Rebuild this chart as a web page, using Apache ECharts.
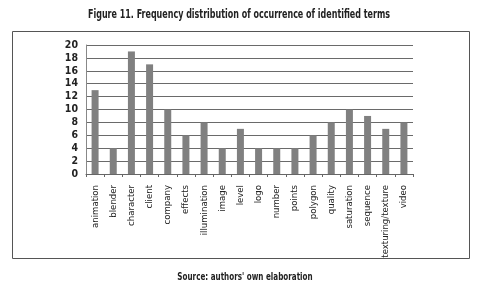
<!DOCTYPE html>
<html>
<head>
<meta charset="utf-8">
<script src="https://cdn.jsdelivr.net/npm/echarts@6/dist/echarts.min.js"></script>
<style>
  html, body { margin: 0; padding: 0; background: #fff; }
  #chart { width: 480px; height: 287px; }
</style>
</head>
<body>
<div id="chart"></div>
<script>
const categories = ['animation', 'blender', 'character', 'client', 'company', 'effects',
  'illumination', 'image', 'level', 'logo', 'number', 'points', 'polygon', 'quality',
  'saturation', 'sequence', 'texturing/texture', 'video']
const counts = [13, 4, 19, 17, 10, 6, 8, 4, 7, 4, 4, 4, 6, 8, 10, 9, 7, 8]
const yTicks = { min: 0, max: 20, interval: 2 }

const font = '"DejaVu Sans Condensed", "Liberation Sans Narrow", sans-serif'
const chart = echarts.init(document.getElementById('chart'))

chart.setOption({
  animation: false,
  textStyle: { fontFamily: font },
  graphic: [{
    type: 'rect',
    shape: { x: 12.5, y: 31.5, width: 457, height: 227 },
    style: { fill: 'none', stroke: '#555', lineWidth: 1 },
    silent: true
  }, {
    // title, squeezed to match the narrow typeface of the original
    type: 'text',
    x: 239, y: 15, scaleX: 0.74,
    style: {
      text: 'Figure 11. Frequency distribution of occurrence of identified terms',
      font: 'bold 12px ' + font, fill: '#222',
      textAlign: 'center', textVerticalAlign: 'middle'
    }
  }, {
    type: 'text',
    x: 245, y: 277, scaleX: 0.8,
    style: {
      text: "Source: authors' own elaboration",
      font: 'bold 10px ' + font, fill: '#222',
      textAlign: 'center', textVerticalAlign: 'middle'
    }
  }],
  grid: { left: 86, right: 67, top: 45, bottom: 113 },
  xAxis: {
    type: 'category',
    data: categories,
    axisLine: { lineStyle: { color: '#666' } },
    axisTick: { show: true, length: 3, lineStyle: { color: '#666' } },
    axisLabel: { rotate: 90, interval: 0, fontSize: 9.5, color: '#222', margin: 11 }
  },
  yAxis: {
    type: 'value',
    min: yTicks.min, max: yTicks.max, interval: yTicks.interval,
    axisLine: { show: true, lineStyle: { color: '#888' } },
    axisTick: { show: false },
    axisLabel: { fontSize: 10.5, fontWeight: 'bold', color: '#222', margin: 8 },
    splitLine: { lineStyle: { color: '#6a6a6a', width: 1 } }
  },
  series: [{
    type: 'bar',
    data: counts,
    barWidth: 7,
    itemStyle: { color: '#808080' }
  }]
})
</script>
</body>
</html>
